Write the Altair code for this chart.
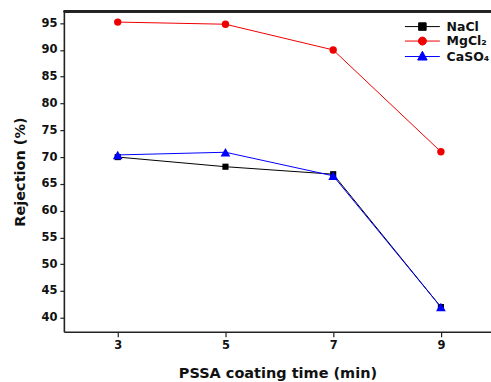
import altair as alt
import pandas as pd

# ---- data ----
coating_time = [3, 5, 7, 9]
nacl = [70.0, 68.2, 66.8, 42.0]
mgcl2 = [95.2, 94.8, 90.0, 71.0]
caso4 = [70.4, 70.9, 66.5, 42.0]
series_names = ["NaCl", "MgCl₂", "CaSO₄"]
series_colors = ["#000000", "#ee0000", "#0000ff"]
series_shapes = ["square", "circle", "triangle-up"]
y_ticks = [40, 45, 50, 55, 60, 65, 70, 75, 80, 85, 90, 95]
x_ticks = [3, 5, 7, 9]

rows = []
for name, vals in zip(series_names, [nacl, mgcl2, caso4]):
    for t, v in zip(coating_time, vals):
        rows.append({"time": t, "rejection": v, "series": name})
df = pd.DataFrame(rows)

W, H = 428, 321
FONT = "DejaVu Sans"

x_enc = alt.X("time:Q", scale=alt.Scale(domain=[2, 9.93], nice=False, zero=False),
              axis=alt.Axis(values=x_ticks, title="PSSA coating time (min)", format="d",
                            tickSize=5, labelPadding=3, titlePadding=15))
y_enc = alt.Y("rejection:Q", scale=alt.Scale(domain=[37.4, 97.2], nice=False, zero=False),
              axis=alt.Axis(values=y_ticks, title="Rejection (%)", tickSize=4,
                            labelPadding=3, titlePadding=13))

sizes = {"square": 38, "circle": 55, "triangle-up": 95}
layers = []
for name, col, shp in zip(series_names, series_colors, series_shapes):
    base = alt.Chart(df).transform_filter(alt.datum.series == name)
    layers.append(base.mark_line(color=col, strokeWidth=1).encode(x=x_enc, y=y_enc))
    layers.append(base.mark_point(shape=shp, filled=True, color=col, opacity=1,
                                  size=sizes[shp]).encode(x=x_enc, y=y_enc))

# legend (line + marker symbols)
legend_paths = [
    "M-3.5,0H3.5M-0.75,-0.75H0.75V0.75H-0.75Z",
    "M-3.5,0H3.5M0.8,0A0.8,0.8,0,1,1,-0.8,0A0.8,0.8,0,1,1,0.8,0Z",
    "M-3.5,0H3.5M0,-1.05L0.95,0.7H-0.95Z",
]
leg = alt.Legend(title=None, orient="none", legendX=353, legendY=9, symbolSize=100,
                 symbolStrokeWidth=1, symbolOpacity=1, labelFont=FONT,
                 labelFontWeight="bold", labelFontSize=12.5, labelColor="#111",
                 labelOffset=18, rowPadding=1.5, padding=0)
legend_layer = alt.Chart(df).mark_point(opacity=0).encode(
    x=x_enc, y=y_enc,
    fill=alt.Fill("series:N", scale=alt.Scale(domain=series_names, range=series_colors), legend=leg),
    stroke=alt.Stroke("series:N", scale=alt.Scale(domain=series_names, range=series_colors), legend=leg),
    shape=alt.Shape("series:N", scale=alt.Scale(domain=series_names, range=legend_paths), legend=leg),
)

top_rule = alt.Chart(df).mark_rule(color="#222", strokeWidth=1.6).encode(
    x=alt.value(0), x2=alt.value(W), y=alt.value(0))

chart = alt.layer(*layers, legend_layer, top_rule).properties(
    width=W, height=H,
    padding={"left": 64, "top": 11, "right": 0, "bottom": 50},
    autosize=alt.AutoSizeParams(type="none"),
).configure_view(stroke=None).configure_axis(
    grid=False, domainColor="#222", domainWidth=1.6, tickColor="#222", tickWidth=1.2,
    labelFont=FONT, labelFontWeight="bold", labelFontSize=11.5, labelColor="#111",
    titleFont=FONT, titleFontWeight="bold", titleFontSize=14.5, titleColor="#111",
)

chart.save("out.html", embed_options={"renderer": "svg", "actions": False})
